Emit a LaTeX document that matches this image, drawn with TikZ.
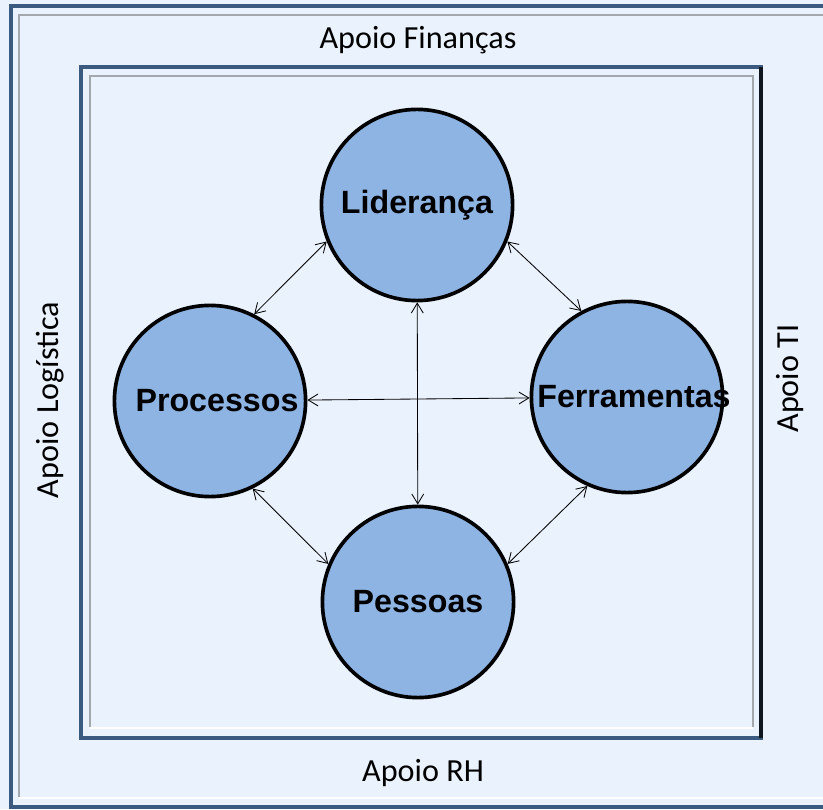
\documentclass[tikz,border=0pt]{standalone}
\usepackage{fontspec}
\setmainfont{Carlito}
\newfontfamily\circfont{Liberation Sans}
\usetikzlibrary{arrows.meta}
\definecolor{fundo}{HTML}{EAF3FD}
\definecolor{azulcirc}{HTML}{8EB4E3}
\definecolor{moldura}{HTML}{3A5A80}
\definecolor{sombra}{HTML}{A3A8AE}
\tikzset{
  circ/.style={circle, draw=black, line width=2.6pt, fill=azulcirc, minimum size=4.78cm, inner sep=0pt,
    font=\circfont\bfseries\fontsize{22.9}{27}\selectfont},
  rel/.style={{Straight Barb[length=7pt,width=8.5pt]}-{Straight Barb[length=7pt,width=8.5pt]}, line width=0.6pt},
  apoio/.style={font=\fontsize{22.9}{27}\selectfont},
}

\begin{document}
\begin{tikzpicture}
\useasboundingbox (0,0) rectangle (20.575,20.225);
%background
\fill[fundo] (0,0) rectangle (20.575,20.225);

%outer frame
\draw[moldura, line width=2.4pt] (0.275,0.05) rectangle (21,20.075);
\draw[sombra, line width=1.6pt] (0.475,0.3) -- (0.475,19.85) -- (21,19.85);
\draw[white, line width=1.6pt] (0.475,0.275) -- (21,0.275);

%inner frame
\draw[moldura, line width=2.4pt] (2.025,1.775) rectangle (19.025,18.55);
\draw[black!75!moldura, line width=2.4pt] (19.025,1.775) -- (19.025,18.55);
\draw[sombra, line width=1.6pt] (2.25,2.05) -- (2.25,18.325) -- (18.825,18.325) -- (18.825,2.05);
\draw[white, line width=1.6pt] (2.25,2.025) -- (18.825,2.025);

%support labels
\node[apoio] (fin) at (10.45,19.225) {Apoio Finanças};
\node[apoio] (rh) at (10.575,0.9) {Apoio RH};
\node[apoio, rotate=90] (log) at (1.25,10.225) {Apoio Logística};
\node[apoio, rotate=90] (ti) at (19.75,10.76) {Apoio TI};

%circles
\node[circ] (lid) at (10.425,15.1) {Liderança};
\node[circ] (proc) at (5.25,10.2) {\makebox[0pt]{\hspace*{0.35cm}Processos}};
\node[circ] (ferr) at (15.675,10.3) {\makebox[0pt]{\hspace*{0.35cm}Ferramentas}};
\node[circ] (pess) at (10.45,5.175) {Pessoas};

%relations
\draw[rel] (proc.63) -- (lid.202);
\draw[rel] (lid.338) -- (ferr.118);
\draw[rel] (proc.296) -- (pess.157);
\draw[rel] (ferr.246) -- (pess.23);
\draw[rel] (proc) -- (ferr);
\draw[rel] (lid) -- (pess);
\end{tikzpicture}
\end{document}
